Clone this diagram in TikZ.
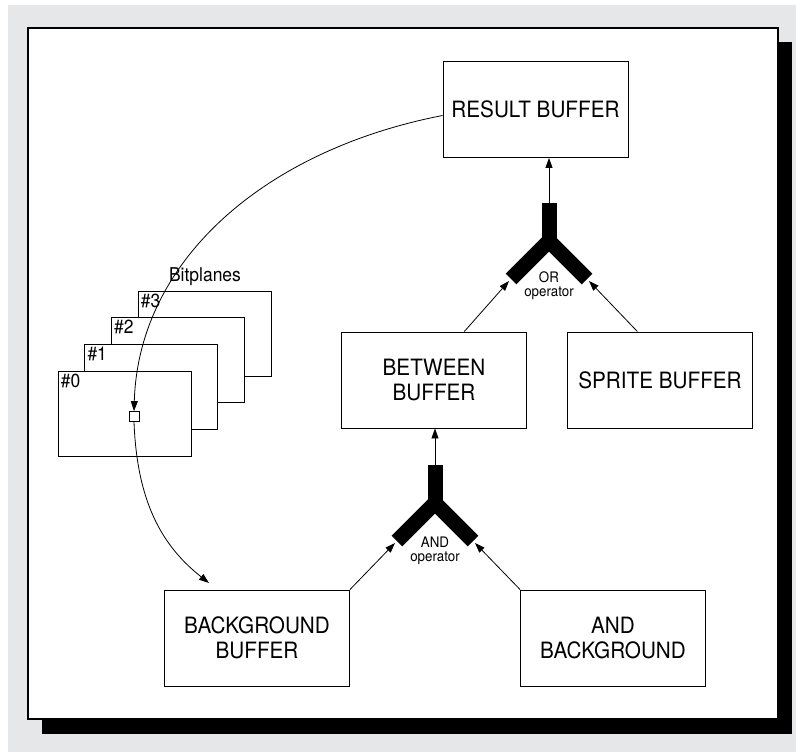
\documentclass[tikz,border=0pt]{standalone}
\usepackage{fontspec}
\setmainfont{TeX Gyre Heros}[FakeStretch=0.92]
\usetikzlibrary{arrows.meta}
\definecolor{bggrey}{HTML}{E6E7E8}

\begin{document}
\begin{tikzpicture}[x=1pt, y=-1pt,
    buffer/.style={draw, line width=0.9pt, fill=white, minimum width=185pt, minimum height=96pt,
      inner sep=0pt, align=center, font=\fontsize{22.5}{25}\selectfont},
    plane/.style={draw, line width=0.8pt, fill=white, minimum width=133pt, minimum height=85pt, inner sep=0pt},
    planelab/.style={anchor=north west, inner sep=3pt, font=\fontsize{19}{20}\selectfont},
    pixel/.style={draw, line width=0.8pt, fill=white, minimum size=10pt, inner sep=0pt},
    gate/.style={line width=15pt, line cap=butt, line join=miter},
    gatelab/.style={align=center, inner sep=0pt, font=\fontsize{14.5}{14}\selectfont},
    conn/.style={line width=0.8pt, -{Triangle[length=10pt, width=7pt]}}]
  \useasboundingbox (0,0) rectangle (796,752);
  % Fondo, sombra y panel
  \fill[bggrey] (8,5) rectangle (796,752);
  \fill (42,42) rectangle (792,734);
  \draw[line width=1.2pt, fill=white] (28,28) rectangle (778,719);
  % Buffers
  \node[buffer] (res) at (535.5,109.5) {RESULT BUFFER};
  \node[buffer] (btw) at (434,380) {BETWEEN\\BUFFER};
  \node[buffer] (spr) at (660,380) {SPRITE BUFFER};
  \node[buffer] (bg) at (257,638) {BACKGROUND\\BUFFER};
  \node[buffer] (andbg) at (613,638) {AND\\BACKGROUND};
  % Operador OR
  \draw[gate] (549,203) -- (549,243);
  \draw[gate] (511,279) -- (549,241) -- (587,279);
  \node[gatelab] (orlab) at (549,286) {OR\\operator};
  \coordinate (orTop) at (549,203);
  \coordinate (orL) at (509,281);
  \coordinate (orR) at (589,281);
  % Operador AND
  \draw[gate] (435,465) -- (435,505);
  \draw[gate] (397,541) -- (435,503) -- (473,541);
  \node[gatelab] (andlab) at (435,551) {AND\\operator};
  \coordinate (andTop) at (435,465);
  \coordinate (andL) at (395,543);
  \coordinate (andR) at (475,543);
  % Conexiones
  \draw[conn] (orTop) -- (orTop |- res.south);
  \draw[conn] (btw.58) -- (orL);
  \draw[conn] (spr.115) -- (orR);
  \draw[conn] (andTop) -- (andTop |- btw.south);
  \draw[conn] (bg.north east) -- (andL);
  \draw[conn] (andbg.north west) -- (andR);
  % Bitplanes
  \foreach \i in {3,2,1,0}{
    \node[plane] (plane\i) at ({124.5+26.7*\i},{413.5-26.7*\i}) {};
    \node[planelab] (lab\i) at (plane\i.north west) {\#\i};
  }
  \node[font=\fontsize{19}{20}\selectfont] (bpl) at (205,277) {Bitplanes};
  \node[pixel] (pix) at (134,416.5) {};
  \coordinate (bgin) at (209,583);
  % Curvas
  \draw[conn] ([yshift=-6pt]res.west) .. controls (265,150) and (138.5,260) .. (pix.north);
  \draw[conn] (pix.south) .. controls (137,502) and (162,546) .. (bgin);
\end{tikzpicture}
\end{document}
